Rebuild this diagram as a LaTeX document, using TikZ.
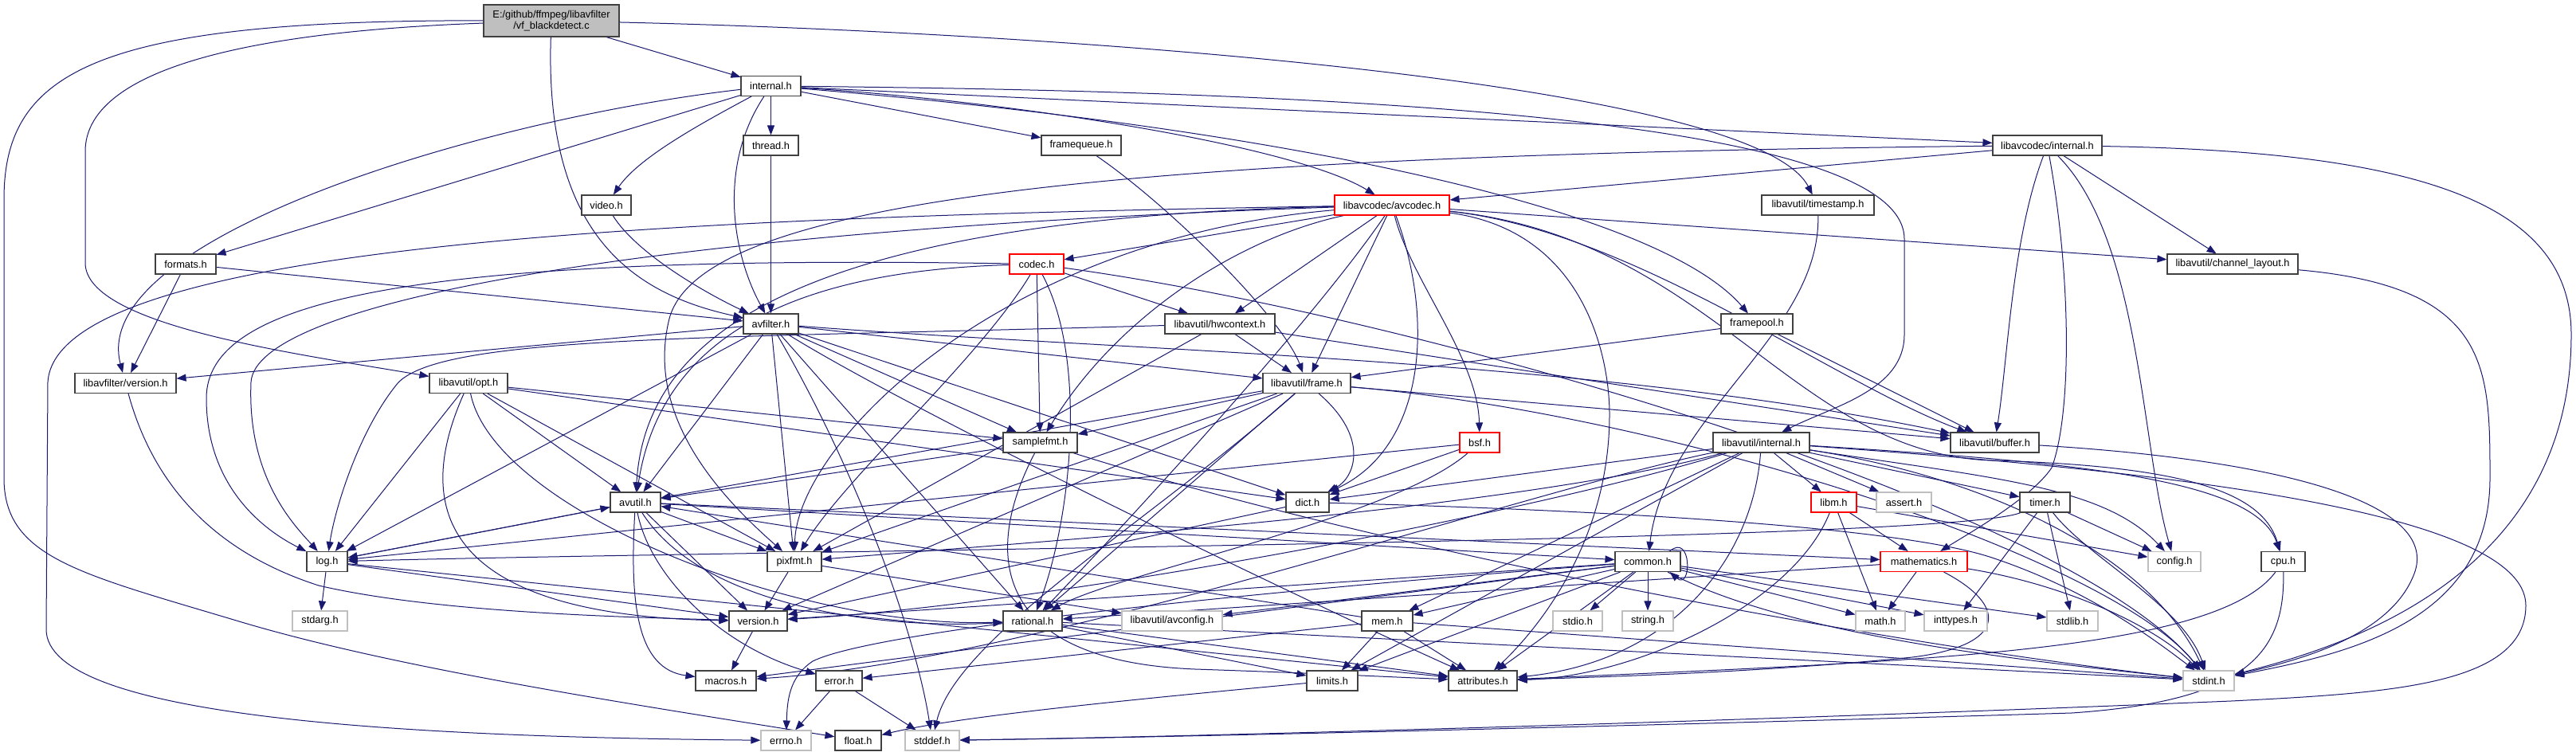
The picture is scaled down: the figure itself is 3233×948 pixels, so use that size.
\documentclass[tikz,border=0pt]{standalone}
\usepackage{fontspec}
\setmainfont{Liberation Sans}
\usetikzlibrary{arrows.meta,backgrounds}
\definecolor{edgec}{HTML}{191970}
\definecolor{bord}{HTML}{404040}
\definecolor{gbord}{HTML}{BFBFBF}
\definecolor{srcfill}{HTML}{BFBFBF}
\tikzset{
  bx/.style={draw=bord, fill=white, line width=1.1pt, minimum height=25pt, inner sep=0pt, font=\fontsize{12.8}{14.5}\selectfont},
  gx/.style={bx, draw=gbord},
  rx/.style={bx, draw=red},
  dep/.style={draw=edgec, line width=1pt, -{Triangle[length=12pt,width=9pt]}},
}
\begin{document}
\begin{tikzpicture}[x=1pt,y=-1pt]
\useasboundingbox (0,0) rectangle (3233,948);
% ---------------- nodes ----------------
\node[bx, fill=srcfill, minimum width=170pt, minimum height=40pt, align=center] (src) at (692,26) {E:/github/ffmpeg/libavfilter\\/vf\_blackdetect.c};
\node[bx, minimum width=75pt] (internal) at (967.5,108) {internal.h};
\node[bx, minimum width=69pt] (thread) at (967.5,182.5) {thread.h};
\node[bx, minimum width=100pt] (framequeue) at (1357,182.5) {framequeue.h};
\node[bx, minimum width=137pt] (lavcinternal) at (2569.5,182.5) {libavcodec/internal.h};
\node[bx, minimum width=62pt] (video) at (761,257.5) {video.h};
\node[rx, minimum width=144pt] (avcodec) at (1747,257.5) {libavcodec/avcodec.h};
\node[bx, minimum width=141pt] (timestamp) at (2281.5,257.5) {libavutil/timestamp.h};
\node[bx, minimum width=76pt] (formats) at (233,331.5) {formats.h};
\node[rx, minimum width=68pt] (codec) at (1301,331.5) {codec.h};
\node[bx, minimum width=164pt] (chlayout) at (2802,331.5) {libavutil/channel\_layout.h};
\node[bx, minimum width=69pt] (avfilter) at (967.5,406.5) {avfilter.h};
\node[bx, minimum width=138pt] (hwcontext) at (1531,406.5) {libavutil/hwcontext.h};
\node[bx, minimum width=90pt] (framepool) at (2205,406.5) {framepool.h};
\node[bx, minimum width=127pt] (lafversion) at (157.5,481) {libavfilter/version.h};
\node[bx, minimum width=98pt] (opt) at (588,481) {libavutil/opt.h};
\node[bx, minimum width=110pt] (frame) at (1640,481) {libavutil/frame.h};
\node[bx, minimum width=93pt] (samplefmt) at (1305.5,555.5) {samplefmt.h};
\node[rx, minimum width=50pt] (bsf) at (1857,555.5) {bsf.h};
\node[bx, minimum width=121pt] (lauinternal) at (2210.5,555.5) {libavutil/internal.h};
\node[bx, minimum width=111pt] (buffer) at (2503.5,555.5) {libavutil/buffer.h};
\node[bx, minimum width=63pt] (avutil) at (797.5,630.5) {avutil.h};
\node[bx, minimum width=54pt] (dict) at (1641,630.5) {dict.h};
\node[rx, minimum width=57pt] (libm) at (2301.5,630.5) {libm.h};
\node[gx, minimum width=69pt] (assert) at (2389.5,630.5) {assert.h};
\node[bx, minimum width=63pt] (timer) at (2566.5,630.5) {timer.h};
\node[bx, minimum width=51pt] (log) at (410.5,705) {log.h};
\node[bx, minimum width=68pt] (pixfmt) at (997,705) {pixfmt.h};
\node[bx, minimum width=82pt] (common) at (2068,705) {common.h};
\node[rx, minimum width=109pt] (mathematics) at (2414.5,705) {mathematics.h};
\node[gx, minimum width=66pt] (config) at (2729,705) {config.h};
\node[bx, minimum width=55pt] (cpu) at (2865.5,705) {cpu.h};
\node[gx, minimum width=69pt] (stdarg) at (401.5,779.5) {stdarg.h};
\node[bx, minimum width=73pt] (version) at (951.5,779.5) {version.h};
\node[bx, minimum width=74pt] (rational) at (1296,779.5) {rational.h};
\node[gx, minimum width=126pt] (avconfig) at (1471,779.5) {libavutil/avconfig.h};
\node[bx, minimum width=64pt] (mem) at (1741,779.5) {mem.h};
\node[gx, minimum width=62pt] (stdio) at (1980,779.5) {stdio.h};
\node[gx, minimum width=64pt] (string) at (2068,779.5) {string.h};
\node[gx, minimum width=62pt] (math) at (2360,779.5) {math.h};
\node[gx, minimum width=79pt] (inttypes) at (2454.5,779.5) {inttypes.h};
\node[gx, minimum width=64pt] (stdlib) at (2601,779.5) {stdlib.h};
\node[bx, minimum width=76pt] (macros) at (911,854.5) {macros.h};
\node[bx, minimum width=58pt] (error) at (1053,854.5) {error.h};
\node[bx, minimum width=64pt] (limits) at (1672,854.5) {limits.h};
\node[bx, minimum width=86pt] (attributes) at (1861,854.5) {attributes.h};
\node[gx, minimum width=64pt] (stdint) at (2772,854.5) {stdint.h};
\node[gx, minimum width=63pt] (errno) at (986.5,929.5) {errno.h};
\node[bx, minimum width=58pt] (float) at (1077,929.5) {float.h};
\node[gx, minimum width=68pt] (stddef) at (1170,929.5) {stddef.h};
% ---------------- edges ----------------
\begin{scope}[on background layer]
\fill[white] (0,0) rectangle (3233,948);
% source file
\draw[dep] (src) -- (internal);
\draw[dep] (src) .. controls (683,300) and (800,370) .. (avfilter);
\draw[dep] (src) .. controls (300,40) and (107,90) .. (107,190) -- (107,330) .. controls (107,410) and (380,445) .. (opt);
\draw[dep] (src) .. controls (120,25) and (5,90) .. (5,250) -- (5,600) .. controls (5,700) and (100,720) .. (300,780) .. controls (500,840) and (800,885) .. (float);
\draw[dep] (src) .. controls (1300,40) and (2200,100) .. (timestamp);
% internal.h
\draw[dep] (internal) -- (thread);
\draw[dep] (internal) -- (framequeue);
\draw[dep] (internal) -- (lavcinternal);
\draw[dep] (internal) .. controls (1250,125) and (1620,180) .. (avcodec);
\draw[dep] (internal) .. controls (1600,160) and (2080,260) .. (framepool);
\draw[dep] (internal) .. controls (1700,115) and (2390,150) .. (2390,300) -- (2390,420) .. controls (2390,490) and (2300,510) .. (lauinternal);
\draw[dep] (internal) .. controls (870,160) and (800,200) .. (video);
\draw[dep] (internal) -- (formats);
\draw[dep] (internal) .. controls (600,150) and (110,300) .. (lafversion);
\draw[dep] (internal) .. controls (900,210) and (920,320) .. (avfilter);
% small libavfilter headers
\draw[dep] (thread) -- (avfilter);
\draw[dep] (framequeue) .. controls (1470,260) and (1610,400) .. (frame);
\draw[dep] (video) .. controls (800,320) and (890,370) .. (avfilter);
\draw[dep] (formats) -- (lafversion);
\draw[dep] (formats) -- (avfilter);
% libavcodec/internal.h
\draw[dep] (lavcinternal) -- (avcodec);
\draw[dep] (lavcinternal) .. controls (1400,195) and (880,250) .. (840,400) .. controls (810,520) and (900,620) .. (pixfmt);
\draw[dep] (lavcinternal) .. controls (2525,300) and (2520,450) .. (buffer);
\draw[dep] (lavcinternal) .. controls (2600,350) and (2600,520) .. (2575,587) .. controls (2550,625) and (2470,670) .. (mathematics);
\draw[dep] (lavcinternal) .. controls (2687,300) and (2687,560) .. (config);
\draw[dep] (lavcinternal) -- (chlayout);
\draw[dep] (lavcinternal) .. controls (3050,190) and (3227,260) .. (3227,420) .. controls (3227,720) and (2950,810) .. (stdint);
% timestamp
\draw[dep] (timestamp) .. controls (2285,420) and (2090,520) .. (common);
% codec.h
\draw[dep] (codec) .. controls (1000,340) and (830,420) .. (avutil);
\draw[dep] (codec) -- (hwcontext);
\draw[dep] (codec) .. controls (500,318) and (259,380) .. (259,500) .. controls (259,610) and (330,665) .. (log);
\draw[dep] (codec) .. controls (1230,450) and (1060,600) .. (pixfmt);
\draw[dep] (codec) .. controls (1365,450) and (1345,650) .. (rational);
\draw[dep] (codec) -- (samplefmt);
\draw[dep] (codec) .. controls (1800,400) and (2600,640) .. (stdint);
% avcodec.h
\draw[dep] (avcodec) .. controls (900,272) and (70,300) .. (60,480) -- (58,790) .. controls (58,900) and (500,925) .. (errno);
\draw[dep] (avcodec) .. controls (1550,300) and (1400,400) .. (samplefmt);
\draw[dep] (avcodec) .. controls (1990,290) and (2020,450) .. (2020,520) .. controls (2020,680) and (1930,790) .. (attributes);
\draw[dep] (avcodec) .. controls (1800,400) and (1790,560) .. (dict);
\draw[dep] (avcodec) .. controls (1770,350) and (1855,450) .. (bsf);
\draw[dep] (avcodec) -- (frame);
\draw[dep] (avcodec) -- (hwcontext);
\draw[dep] (avcodec) -- (codec);
\draw[dep] (avcodec) -- (chlayout);
\draw[dep] (avcodec) .. controls (2150,300) and (2250,570) .. (2500,578) .. controls (2750,585) and (2840,620) .. (cpu);
\draw[dep] (avcodec) .. controls (2050,290) and (2300,480) .. (buffer);
\draw[dep] (avcodec) .. controls (800,290) and (320,380) .. (315,480) .. controls (310,600) and (370,660) .. (log);
\draw[dep] (avcodec) .. controls (1250,300) and (1000,560) .. (pixfmt);
\draw[dep] (avcodec) .. controls (1000,275) and (810,420) .. (avutil);
\draw[dep] (avcodec) .. controls (1650,400) and (1420,650) .. (rational);
% channel_layout
\draw[dep] (chlayout) .. controls (3125,360) and (3125,460) .. (3125,600) .. controls (3125,780) and (2950,820) .. (stdint);
% avfilter.h
\draw[dep] (avfilter) .. controls (1080,600) and (1150,800) .. (stddef);
\draw[dep] (avfilter) .. controls (1150,520) and (1650,760) .. (attributes);
\draw[dep] (avfilter) -- (avutil);
\draw[dep] (avfilter) .. controls (1400,440) and (2000,450) .. (buffer);
\draw[dep] (avfilter) -- (dict);
\draw[dep] (avfilter) -- (frame);
\draw[dep] (avfilter) -- (log);
\draw[dep] (avfilter) -- (samplefmt);
\draw[dep] (avfilter) -- (pixfmt);
\draw[dep] (avfilter) -- (rational);
\draw[dep] (avfilter) -- (lafversion);
% hwcontext
\draw[dep] (hwcontext) -- (buffer);
\draw[dep] (hwcontext) -- (frame);
\draw[dep] (hwcontext) .. controls (900,425) and (560,420) .. (500,480) .. controls (450,540) and (420,640) .. (log);
\draw[dep] (hwcontext) -- (pixfmt);
% framepool
\draw[dep] (framepool) -- (buffer);
\draw[dep] (framepool) -- (frame);
% libavfilter/version.h
\draw[dep] (lafversion) .. controls (190,600) and (260,690) .. (400,735) .. controls (550,770) and (800,775) .. (version);
% opt.h
\draw[dep] (opt) .. controls (620,640) and (1000,790) .. (rational);
\draw[dep] (opt) -- (avutil);
\draw[dep] (opt) -- (dict);
\draw[dep] (opt) -- (log);
\draw[dep] (opt) -- (pixfmt);
\draw[dep] (opt) -- (samplefmt);
\draw[dep] (opt) .. controls (490,700) and (650,775) .. (version);
% frame.h
\draw[dep] (frame) .. controls (1450,650) and (1200,800) .. (stddef);
\draw[dep] (frame) .. controls (2100,520) and (2650,700) .. (stdint);
\draw[dep] (frame) -- (avutil);
\draw[dep] (frame) -- (buffer);
\draw[dep] (frame) .. controls (1720,550) and (1700,600) .. (dict);
\draw[dep] (frame) -- (rational);
\draw[dep] (frame) -- (samplefmt);
\draw[dep] (frame) -- (pixfmt);
\draw[dep] (frame) -- (version);
% samplefmt.h
\draw[dep] (samplefmt) .. controls (1700,680) and (2300,800) .. (stdint);
\draw[dep] (samplefmt) -- (avutil);
\draw[dep] (samplefmt) .. controls (1230,700) and (1250,830) .. (1500,840) .. controls (1650,845) and (1750,850) .. (attributes);
% bsf.h
\draw[dep] (bsf) -- (dict);
\draw[dep] (bsf) -- (log);
\draw[dep] (bsf) .. controls (1750,650) and (1400,720) .. (rational);
% libavutil/internal.h
\draw[dep] (lauinternal) -- (limits);
\draw[dep] (lauinternal) .. controls (2500,600) and (2700,700) .. (stdint);
\draw[dep] (lauinternal) .. controls (2700,590) and (3170,640) .. (3170,760) .. controls (3170,860) and (3000,870) .. (2800,880) .. controls (2200,905) and (1500,925) .. (stddef);
\draw[dep] (lauinternal) -- (assert);
\draw[dep] (lauinternal) .. controls (2500,600) and (2640,610) .. (config);
\draw[dep] (lauinternal) .. controls (2200,700) and (2100,830) .. (attributes);
\draw[dep] (lauinternal) -- (timer);
\draw[dep] (lauinternal) .. controls (2600,580) and (2830,600) .. (cpu);
\draw[dep] (lauinternal) -- (dict);
\draw[dep] (lauinternal) .. controls (1900,620) and (1300,830) .. (macros);
\draw[dep] (lauinternal) -- (mem);
\draw[dep] (lauinternal) .. controls (1900,640) and (1300,680) .. (pixfmt);
\draw[dep] (lauinternal) .. controls (1900,650) and (1300,760) .. (version);
\draw[dep] (lauinternal) -- (libm);
% buffer.h
\draw[dep] (buffer) .. controls (2900,580) and (3060,640) .. (3030,720) .. controls (3000,800) and (2880,830) .. (stdint);
% avutil.h
\draw[dep] (avutil) -- (common);
\draw[dep] (avutil) .. controls (815,720) and (900,810) .. (error);
\draw[dep] (avutil) .. controls (880,760) and (1100,790) .. (rational);
\draw[dep] (avutil) -- (version);
\draw[dep] (avutil) .. controls (790,760) and (800,840) .. (macros);
\draw[dep] (avutil) -- (mathematics);
\draw[dep] (avutil) -- (log);
\draw[dep] (avutil) -- (pixfmt);
% dict.h
\draw[dep] (dict) .. controls (2000,640) and (2380,660) .. (2500,700) .. controls (2620,740) and (2700,800) .. (stdint);
\draw[dep] (dict) -- (version);
% libm.h
\draw[dep] (libm) -- (math);
\draw[dep] (libm) -- (config);
\draw[dep] (libm) .. controls (2250,760) and (2050,850) .. (attributes);
\draw[dep] (libm) -- (mathematics);
% timer.h
\draw[dep] (timer) -- (stdlib);
\draw[dep] (timer) .. controls (2620,700) and (2740,760) .. (stdint);
\draw[dep] (timer) -- (inttypes);
\draw[dep] (timer) -- (config);
\draw[dep] (timer) .. controls (2450,680) and (1000,690) .. (log);
% log.h
\draw[dep] (log) -- (stdarg);
\draw[dep] (log) -- (avutil);
\draw[dep] (log) -- (attributes);
\draw[dep] (log) -- (version);
% pixfmt.h
\draw[dep] (pixfmt) -- (avconfig);
\draw[dep] (pixfmt) -- (version);
% common.h
\draw[dep] (common) .. controls (1600,740) and (1100,790) .. (1020,830) .. controls (990,850) and (988,880) .. (errno);
\draw[dep] (common) -- (inttypes);
\draw[dep] (common) -- (limits);
\draw[dep] (common) -- (math);
\draw[dep] (common) .. controls (2250,800) and (2550,830) .. (stdint);
\draw[dep] (common) -- (stdio);
\draw[dep] (common) -- (stdlib);
\draw[dep] (common) -- (string);
\draw[dep] (common) -- (attributes);
\draw[dep] (common) -- (macros);
\draw[dep] (common) -- (version);
\draw[dep] (common) -- (avconfig);
\draw[dep] (common) -- (mem);
\draw[dep] ([xshift=-14pt]common.north east) .. controls +(28,-24) and +(28,24) .. ([xshift=-14pt]common.south east);
% mathematics.h
\draw[dep] (mathematics) -- (math);
\draw[dep] (mathematics) .. controls (2600,735) and (2710,790) .. (stdint);
\draw[dep] (mathematics) .. controls (2520,760) and (2520,810) .. (2400,825) .. controls (2200,845) and (2000,850) .. (attributes);
\draw[dep] (mathematics) -- (rational);
% cpu.h
\draw[dep] (cpu) .. controls (2780,820) and (2400,830) .. (attributes);
\draw[dep] (cpu) .. controls (2868,820) and (2820,880) .. (2600,895) .. controls (2100,910) and (1500,925) .. (stddef);
% lower level
\draw[dep] (version) -- (macros);
\draw[dep] (rational) -- (stdint);
\draw[dep] (rational) -- (limits);
\draw[dep] (rational) -- (attributes);
\draw[dep] (mem) -- (limits);
\draw[dep] (mem) -- (stdint);
\draw[dep] (mem) -- (attributes);
\draw[dep] (mem) -- (error);
\draw[dep] (mem) -- (avutil);
\draw[dep] (error) -- (errno);
\draw[dep] (error) -- (stddef);
\draw[dep] (limits) .. controls (1400,880) and (1200,900) .. (float);
\end{scope}
\end{tikzpicture}
\end{document}
